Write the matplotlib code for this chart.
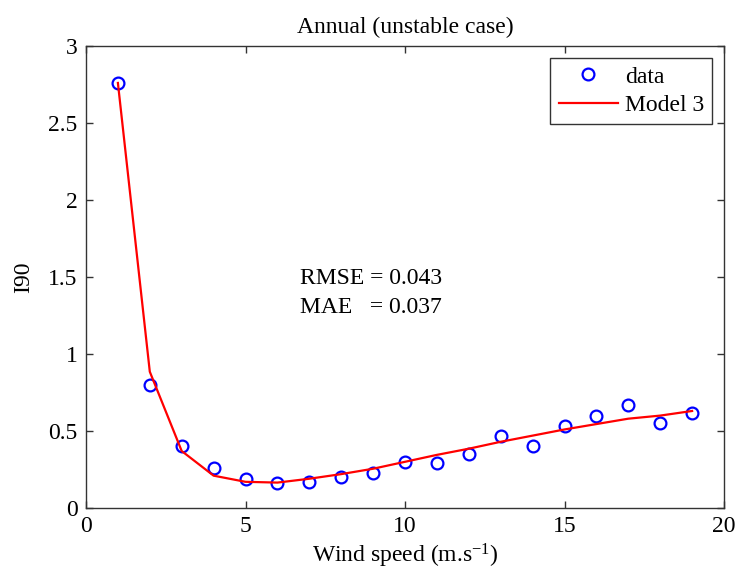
import matplotlib
matplotlib.use("Agg")
import matplotlib.pyplot as plt

wind_speed = [1, 2, 3, 4, 5, 6, 7, 8, 9, 10, 11, 12, 13, 14, 15, 16, 17, 18, 19]
i90_data = [2.76, 0.80, 0.40, 0.26, 0.19, 0.165, 0.17, 0.20, 0.225, 0.30,
            0.295, 0.35, 0.465, 0.40, 0.53, 0.60, 0.67, 0.555, 0.62]
i90_model = [2.76, 0.885, 0.37, 0.21, 0.17, 0.165, 0.19, 0.22, 0.255, 0.30,
             0.345, 0.385, 0.43, 0.47, 0.51, 0.545, 0.58, 0.60, 0.63]

plt.rcParams['font.family'] = ['Liberation Serif', 'DejaVu Serif']
plt.rcParams['font.size'] = 17
plt.rcParams['mathtext.fontset'] = 'custom'
plt.rcParams['mathtext.rm'] = 'Liberation Serif'
plt.rcParams['mathtext.it'] = 'Liberation Serif:italic'

fig = plt.figure(figsize=(7.36, 5.74), dpi=100)
ax = fig.add_axes([86 / 736, 1 - 508 / 574, 638 / 736, 462 / 574])

ax.plot(wind_speed, i90_data, 'o', mfc='none', mec='#0000ff', ms=8.5, mew=1.6, label='data')
ax.plot(wind_speed, i90_model, '-', color='#ff0000', lw=1.6, label='Model 3')

ax.set_xlim(0, 20)
ax.set_ylim(0, 3)
ax.set_xticks([0, 5, 10, 15, 20])
ax.set_yticks([0, 0.5, 1, 1.5, 2, 2.5, 3])
ax.set_yticklabels(['0', '0.5', '1', '1.5', '2', '2.5', '3'])
ax.tick_params(direction='in', top=True, right=True, length=5, width=1, colors='#333333',
               labelcolor='black', pad=6)
for s in ax.spines.values():
    s.set_color('#333333')
    s.set_linewidth(1)

ax.set_xlabel('Wind speed (m.s$^{\\mathregular{-1}}$)', labelpad=3)
ax.set_ylabel('I90', labelpad=10)
ax.set_title('Annual (unstable case)', fontsize=17, pad=9)

ax.text(6.7, 1.49, 'RMSE = 0.043', va='center', ha='left')
ax.text(6.7, 1.30, 'MAE   = 0.037', va='center', ha='left')

leg = ax.legend(loc='upper right', fancybox=False, edgecolor='#333333', framealpha=1,
                borderaxespad=0.5, handlelength=2.5, handletextpad=0.3,
                borderpad=0.35, labelspacing=0.3)
leg.get_frame().set_linewidth(1)

fig.savefig('out.png', dpi=100)
